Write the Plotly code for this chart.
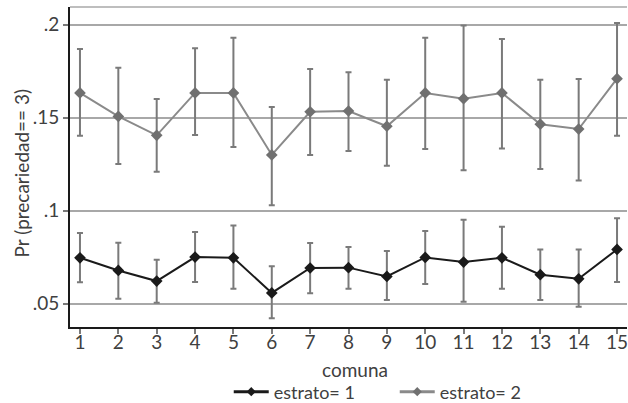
import plotly.graph_objects as go

comuna = list(range(1, 16))
tick_labels = [str(c) for c in comuna]

est1 = [0.0747, 0.0679, 0.0622, 0.0751, 0.0747, 0.0558, 0.0692, 0.0694, 0.0647, 0.0749, 0.0724, 0.0747, 0.0656, 0.0634, 0.0792]
est1_hi = [0.0880, 0.0828, 0.0737, 0.0885, 0.0920, 0.0701, 0.0826, 0.0805, 0.0783, 0.0891, 0.0952, 0.0914, 0.0791, 0.0791, 0.0959]
est1_lo = [0.0615, 0.0527, 0.0505, 0.0617, 0.0581, 0.0422, 0.0556, 0.0581, 0.0520, 0.0606, 0.0511, 0.0581, 0.0520, 0.0484, 0.0617]

est2 = [0.1633, 0.1507, 0.1405, 0.1633, 0.1633, 0.1300, 0.1532, 0.1536, 0.1454, 0.1633, 0.1602, 0.1633, 0.1465, 0.1439, 0.1710]
est2_hi = [0.1869, 0.1769, 0.1601, 0.1873, 0.1930, 0.1558, 0.1762, 0.1744, 0.1704, 0.1930, 0.1995, 0.1923, 0.1704, 0.1708, 0.2009]
est2_lo = [0.1403, 0.1251, 0.1210, 0.1407, 0.1342, 0.1029, 0.1300, 0.1321, 0.1242, 0.1332, 0.1217, 0.1335, 0.1224, 0.1163, 0.1403]

y_ticks = [0.05, 0.1, 0.15, 0.2]
y_tick_labels = [".05", ".1", ".15", ".2"]

series_names = ["estrato= 1", "estrato= 2"]
x_title = "comuna"
y_title = "Pr (precariedad== 3)"

FONT = "Lato"
TXT = "#404040"
ERR = "#7a7a7a"
C1_LINE, C1_MARK = "#1a1a1a", "#1a1a1a"
C2_LINE, C2_MARK = "#8a8a8a", "#707070"
FS = 19

def err(v, hi, lo):
    return dict(type="data", symmetric=False,
                array=[h - x for h, x in zip(hi, v)],
                arrayminus=[x - l for x, l in zip(v, lo)],
                color=ERR, thickness=2, width=3)

fig = go.Figure()
for v, hi, lo, lc, mc in [(est1, est1_hi, est1_lo, C1_LINE, C1_MARK),
                          (est2, est2_hi, est2_lo, C2_LINE, C2_MARK)]:
    fig.add_trace(go.Scatter(
        x=comuna, y=v, mode="lines+markers", showlegend=False,
        line=dict(color=lc, width=2),
        marker=dict(symbol="diamond", size=9, color=mc),
        error_y=err(v, hi, lo)))

# legend entries (smaller symbols, as in the reference)
for name, lc, mc in [(series_names[0], C1_LINE, C1_MARK), (series_names[1], C2_LINE, C2_MARK)]:
    fig.add_trace(go.Scatter(
        x=[None], y=[None], mode="lines+markers", name=name,
        line=dict(color=lc, width=3),
        marker=dict(symbol="diamond", size=7, color=mc)))

fig.update_layout(
    width=628, height=403,
    margin=dict(l=70, r=1, t=7, b=76, autoexpand=False),
    paper_bgcolor="white", plot_bgcolor="white",
    font=dict(family=FONT, size=FS, color=TXT),
    showlegend=True,
    legend=dict(orientation="h", x=0.285, xanchor="left", y=-0.203, yanchor="middle",
                font=dict(size=18, color=TXT), itemwidth=35,
                entrywidth=116, entrywidthmode="pixels",
                bgcolor="rgba(0,0,0,0)"),
    xaxis=dict(range=[0.74, 15.26], tickmode="array", tickvals=comuna, ticktext=tick_labels,
               showgrid=False, zeroline=False, showline=True, linecolor="#1a1a1a", linewidth=2,
               ticks="outside", ticklen=5, tickwidth=2, tickcolor="#7a7a7a", automargin=False,
               ticklabeloverflow="allow", ticklabelstandoff=-8),
    yaxis=dict(range=[0.0375, 0.2095], tickmode="array", tickvals=y_ticks, ticktext=y_tick_labels,
               showgrid=True, gridcolor="#a8a8a8", gridwidth=1.5, zeroline=False,
               showline=True, linecolor="#1a1a1a", linewidth=2,
               ticks="outside", ticklen=5, tickwidth=2, tickcolor="#7a7a7a", automargin=False),
    shapes=[dict(type="line", xref="paper", yref="paper", x0=0, x1=1, y0=1, y1=1,
                 line=dict(color="#a8a8a8", width=1.5))],
    annotations=[
        dict(text=x_title, xref="paper", yref="paper", x=0.512, y=-0.134,
             xanchor="center", yanchor="middle", showarrow=False,
             font=dict(size=FS, color=TXT)),
        dict(text=y_title, xref="paper", yref="paper", x=-0.088, y=0.48,
             xanchor="center", yanchor="middle", textangle=-90, showarrow=False,
             font=dict(size=FS, color=TXT)),
    ],
)

fig.write_html("out.html", config={"displayModeBar": False},
               post_script="document.body.style.margin='0';document.body.style.overflow='hidden';")
